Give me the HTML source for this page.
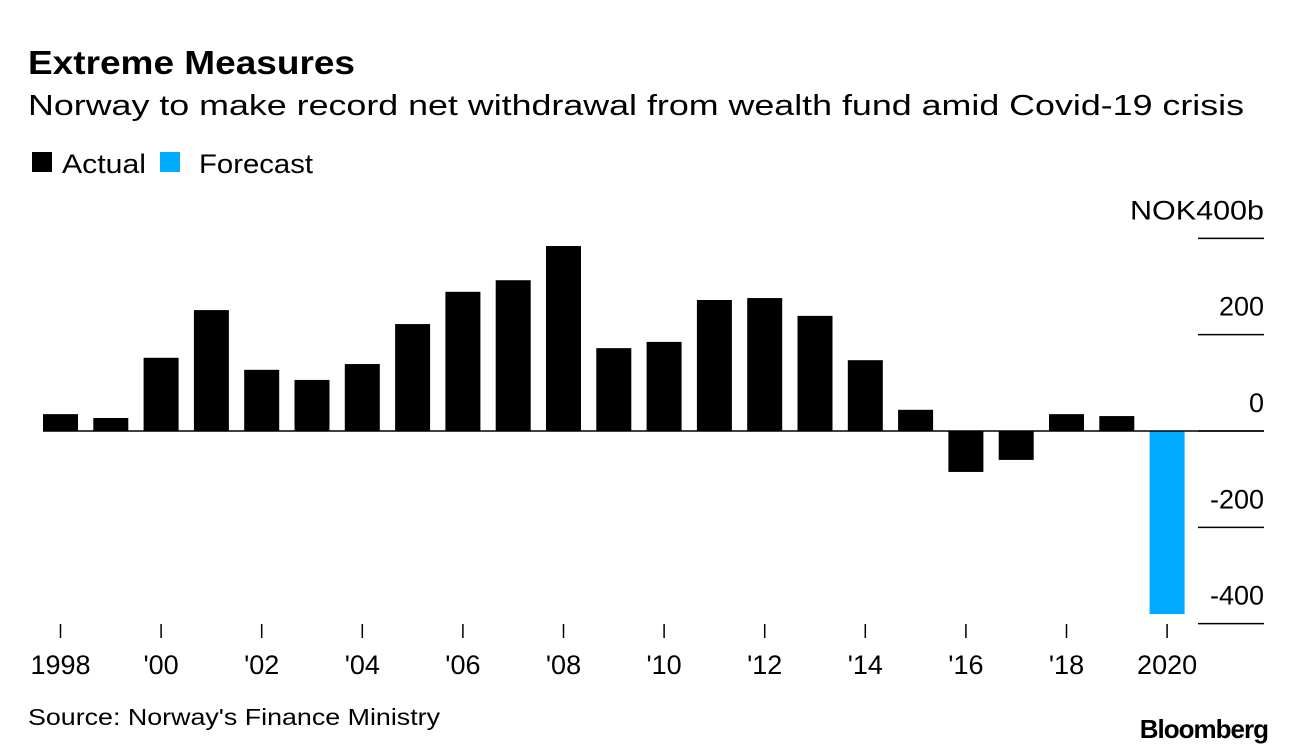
<!DOCTYPE html>
<html><head><meta charset="utf-8"><style>
body{margin:0;background:#fff;font-family:"Liberation Sans",Arial,sans-serif;}
svg{display:block}
</style></head><body>
<svg id="c" width="1296" height="756" font-family="Liberation Sans, Arial, sans-serif">
<text x="28" y="74" font-size="33" font-weight="bold" fill="#000" textLength="327" lengthAdjust="spacingAndGlyphs">Extreme Measures</text>
<text x="28" y="115" font-size="29" fill="#000" textLength="1216" lengthAdjust="spacingAndGlyphs">Norway to make record net withdrawal from wealth fund amid Covid-19 crisis</text>
<g>
<rect x="32" y="152" width="20" height="20" fill="#000"/>
<text x="62" y="173" font-size="27" textLength="84" lengthAdjust="spacingAndGlyphs">Actual</text>
<rect x="160" y="152" width="20" height="20" fill="#00aaff"/>
<text x="199" y="173" font-size="27" textLength="114" lengthAdjust="spacingAndGlyphs">Forecast</text>
</g>
<g id="plot"></g>
<text x="28" y="725" font-size="23" textLength="412" lengthAdjust="spacingAndGlyphs">Source: Norway's Finance Ministry</text>
<text x="1268" y="738" font-size="26" font-weight="bold" text-anchor="end" letter-spacing="-1">Bloomberg</text>
</svg>
<script>
const years=[1998,1999,2000,2001,2002,2003,2004,2005,2006,2007,2008,2009,2010,2011,2012,2013,2014,2015,2016,2017,2018,2019,2020];
const values=[35,27,152,251,127,106,139,222,289,313,384,172,185,272,276,239,147,44,-85,-60,35,31,-380];
const forecast=[false,false,false,false,false,false,false,false,false,false,false,false,false,false,false,false,false,false,false,false,false,false,true];
const yTicks=[400,200,0,-200,-400];
const yTickLabels=["NOK400b","200","0","-200","-400"];
const xLabelYears=[1998,2000,2002,2004,2006,2008,2010,2012,2014,2016,2018,2020];
const xLabels=["1998","'00","'02","'04","'06","'08","'10","'12","'14","'16","'18","2020"];
const NS="http://www.w3.org/2000/svg";
const g=document.getElementById('plot');
const y=v=>431-v*0.4817;
const x=yr=>60.5+(yr-1998)*50.3;
function mk(t,a){const e=document.createElementNS(NS,t);for(const k in a)e.setAttribute(k,a[k]);g.appendChild(e);return e;}
yTicks.forEach((v,i)=>{
 const l=mk('line',{x1:1198,x2:1264,y1:y(v),y2:y(v),stroke:'#000','stroke-width':1.5});
 
 
 const a={x:1264,y:y(v)-19,'font-size':27,'text-anchor':'end'};
 if(i===0){a.textLength=134;a.lengthAdjust='spacingAndGlyphs';}
 const t=mk('text',a);
 t.textContent=yTickLabels[i];
 
 
});
years.forEach((yr,i)=>{
 const v=values[i];
 const r=mk('rect',{x:x(yr)-17.5,width:35,y:Math.min(y(v),y(0)),height:Math.abs(y(v)-y(0)),fill:forecast[i]?'#00aaff':'#000'});
 
 
});
const z=mk('line',{x1:43,x2:1264,y1:y(0),y2:y(0),stroke:'#000','stroke-width':1.5});


xLabelYears.forEach((yr,i)=>{
 const tk=mk('line',{x1:x(yr),x2:x(yr),y1:624,y2:638,stroke:'#000','stroke-width':1.5});
 
 
 const t=mk('text',{x:x(yr),y:674,'font-size':27,'text-anchor':'middle'});
 t.textContent=xLabels[i];
 
 
});
</script>
</body></html>
